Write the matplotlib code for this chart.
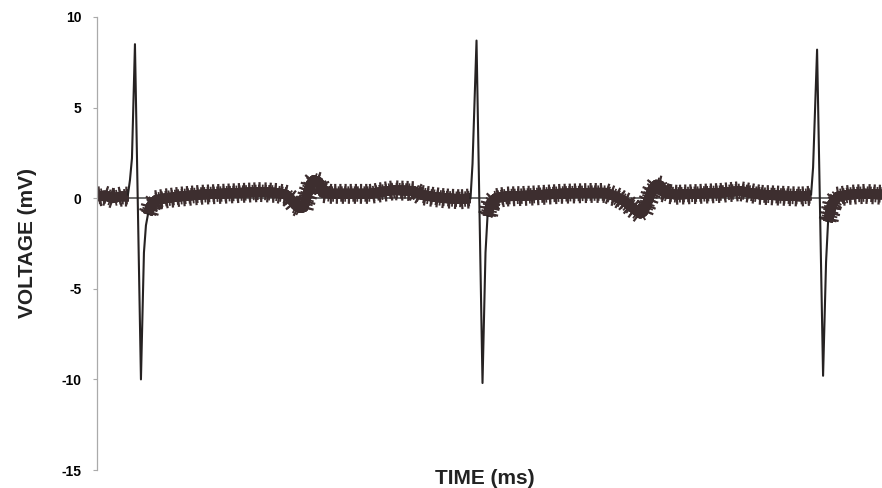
import matplotlib
matplotlib.use("Agg")
import matplotlib.pyplot as plt
import matplotlib.patheffects as pe

# ECG-like trace, time in ms (arbitrary origin), voltage in mV
# noisy baseline segments between the spikes (drawn as a thick band)
base_a_t = [0, 8, 16, 24, 32]
base_a_v = [0.1, 0.15, 0.0, 0.1, 0.1]

base_b_t = [51, 54, 59, 69, 84, 104, 124, 144, 164, 179, 189, 194, 199, 204, 207, 210,
            214, 217, 222, 226, 234, 254, 274, 297, 317, 324, 334, 349, 364, 374]
base_b_v = [-0.9, -0.4, -0.1, 0.0, 0.1, 0.2, 0.25, 0.3, 0.35, 0.3, 0.2, -0.05, -0.4, -0.55, -0.5, 0.1,
            0.8, 1.0, 0.9, 0.3, 0.25, 0.25, 0.25, 0.45, 0.4, 0.2, 0.1, 0.0, -0.05, 0.0]

base_c_t = [391, 394, 399, 409, 434, 464, 494, 509, 519, 529, 539, 544, 547, 552, 556, 560,
            564, 567, 572, 580, 604, 624, 644, 654, 664, 684, 704, 715]
base_c_v = [-1.0, -0.3, 0.0, 0.1, 0.15, 0.25, 0.3, 0.3, 0.1, -0.2, -0.65, -0.85, -0.75, -0.1, 0.5, 0.75,
            0.7, 0.35, 0.25, 0.2, 0.25, 0.3, 0.4, 0.3, 0.2, 0.15, 0.1, 0.15]

base_d_t = [732, 736, 742, 754, 769, 786]
base_d_v = [-1.3, -0.3, 0.1, 0.2, 0.25, 0.2]

# spike complexes (thin line)
spike1_t = [31, 33, 35, 38, 44, 47, 49, 51]
spike1_v = [0.2, 1.0, 2.2, 8.5, -10.0, -3.0, -1.5, -0.9]
spike2_t = [374, 376, 380, 386, 389, 391]
spike2_v = [0.0, 1.9, 8.7, -10.2, -3.0, -1.0]
spike3_t = [715, 717, 721, 727, 730, 732]
spike3_v = [0.2, 1.7, 8.2, -9.8, -3.5, -1.3]

y_ticks = [-15, -10, -5, 0, 5, 10]

band_color = "#3d2e2f"
fig = plt.figure(figsize=(8.82, 4.88), dpi=100)
ax = fig.add_axes([97 / 882, 1 - 470 / 488, 1 - 97 / 882, (470 - 17) / 488])

ax.axhline(0, color="#555555", lw=1.2, zorder=1)

# ragged edges of the noisy band: overlapping tick strokes with different spacings
jag = [pe.withTickedStroke(angle=90, spacing=2.3, length=2.3, linewidth=1.3),
       pe.withTickedStroke(angle=90, spacing=3.7, length=1.9, linewidth=1.6),
       pe.withTickedStroke(angle=-90, spacing=2.9, length=2.0, linewidth=1.3),
       pe.withTickedStroke(angle=-90, spacing=4.3, length=1.7, linewidth=1.6),
       pe.Normal()]
for t, v in [(base_a_t, base_a_v), (base_b_t, base_b_v), (base_c_t, base_c_v), (base_d_t, base_d_v)]:
    ax.plot(t, v, color=band_color, lw=7.0, solid_capstyle="butt", solid_joinstyle="round",
            path_effects=jag, zorder=2)

for t, v in [(spike1_t, spike1_v), (spike2_t, spike2_v), (spike3_t, spike3_v)]:
    ax.plot(t, v, color="#262222", lw=1.5, zorder=3)

ax.set_xlim(0, 786)
ax.set_ylim(-15, 10)
ax.set_yticks(y_ticks)
ax.set_yticklabels([str(y) for y in y_ticks], fontfamily="Liberation Sans", fontweight="bold", fontsize=10)
ax.set_xticks([])
for s in ["top", "right", "bottom"]:
    ax.spines[s].set_visible(False)
ax.spines["left"].set_color("#aaaaaa")
ax.spines["left"].set_linewidth(0.9)
ax.tick_params(axis="y", direction="out", length=3, width=0.8, color="#aaaaaa", pad=8)

fig.text(28 / 882, 1 - 243 / 488, "VOLTAGE (mV)", rotation=90, ha="center", va="center",
         fontfamily="Liberation Sans", fontweight="bold", fontsize=15, color="#222222")
fig.text(485 / 882, 1 - 479 / 488, "TIME (ms)", ha="center", va="center",
         fontfamily="Liberation Sans", fontweight="bold", fontsize=15, color="#222222")

fig.savefig("out.png", dpi=100)
